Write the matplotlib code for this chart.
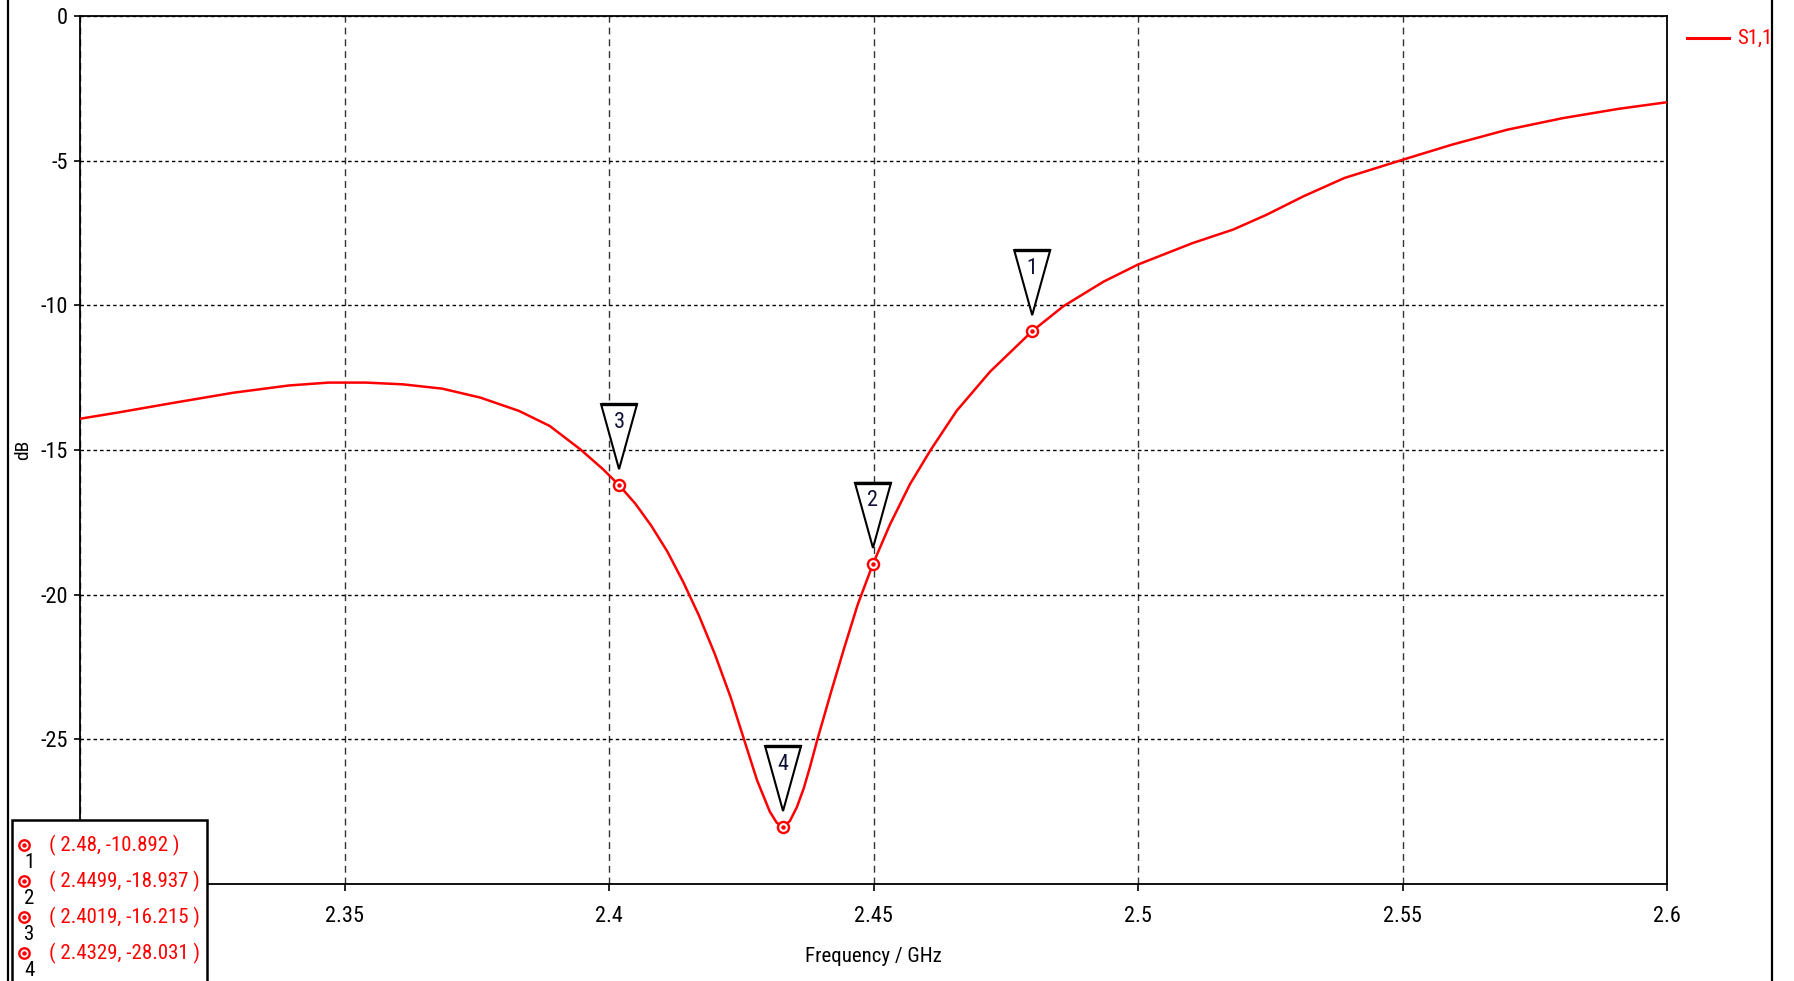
import matplotlib
matplotlib.use('Agg')
import matplotlib.pyplot as plt
from matplotlib import font_manager as fm
from matplotlib.patches import Polygon, Rectangle
from matplotlib.lines import Line2D
from matplotlib.transforms import ScaledTranslation

# ---- pick a narrow sans font if one is installed ----
_fonts = fm.fontManager.ttflist
_names = {f.name for f in _fonts}
FAMILY = None
STRETCH = 'normal'
for cand in ['Liberation Sans Narrow', 'Roboto Condensed', 'Open Sans Condensed', 'Noto Sans Condensed']:
    if cand in _names:
        FAMILY = cand
        break
if FAMILY is None:
    for f in _fonts:
        if f.name == 'DejaVu Sans' and f.stretch == 'condensed' and f.style == 'normal' and f.weight in (400, 'normal', 'regular'):
            FAMILY = 'DejaVu Sans'
            STRETCH = 'condensed'
            break
NARROW = FAMILY is not None
if FAMILY is None:
    FAMILY = 'Liberation Sans'
plt.rcParams['font.family'] = [FAMILY, 'DejaVu Sans']
plt.rcParams['font.stretch'] = STRETCH
FS = 16 if NARROW else 14
FS_T = 15 if NARROW else 13

# ---- data ----
freq = [2.300, 2.307, 2.318, 2.329, 2.3395, 2.347, 2.354, 2.361, 2.3685, 2.3757,
        2.383, 2.3888, 2.3946, 2.3989, 2.4019, 2.405, 2.408, 2.411, 2.414, 2.417,
        2.420, 2.423, 2.4255, 2.428, 2.4304, 2.4317, 2.4329, 2.4342, 2.4355, 2.4368,
        2.438, 2.4394, 2.442, 2.4445, 2.447, 2.4499, 2.4531, 2.4569, 2.4608, 2.4657,
        2.472, 2.48, 2.4859, 2.4935, 2.5, 2.5103, 2.518, 2.5243, 2.5313, 2.539,
        2.55, 2.5593, 2.5698, 2.5803, 2.5908, 2.6]
s11_db = [-13.92, -13.71, -13.36, -13.02, -12.77, -12.67, -12.67, -12.73, -12.88, -13.19,
          -13.65, -14.17, -14.98, -15.67, -16.215, -16.86, -17.62, -18.50, -19.55, -20.72,
          -22.05, -23.55, -24.99, -26.42, -27.50, -27.88, -28.031, -27.82, -27.35, -26.70,
          -25.95, -25.00, -23.35, -21.82, -20.35, -18.937, -17.58, -16.18, -15.00, -13.65,
          -12.30, -10.892, -10.03, -9.18, -8.59, -7.85, -7.38, -6.87, -6.23, -5.60,
          -4.97, -4.45, -3.93, -3.53, -3.21, -2.98]

marker_ids = ['1', '2', '3', '4']
marker_freq = [2.48, 2.4499, 2.4019, 2.4329]
marker_db = [-10.892, -18.937, -16.215, -28.031]

# end ticks at 2.3 / -30 carry no label in the reference (hidden under the marker table)
xticks = [2.3, 2.35, 2.4, 2.45, 2.5, 2.55, 2.6]
xtick_labels = ['', '2.35', '2.4', '2.45', '2.5', '2.55', '2.6']
yticks = [-30, -25, -20, -15, -10, -5, 0]
ytick_labels = ['', '-25', '-20', '-15', '-10', '-5', '0']
series_name = 'S1,1'

# ---- figure ----
W, H = 1794, 981
fig = plt.figure(figsize=(W / 100, H / 100), dpi=100)
fig.patch.set_facecolor('white')
ax = fig.add_axes([80 / W, 1 - 884 / H, (1667 - 80) / W, (884 - 16) / H])

ax.plot(freq, s11_db, color='#ff0000', lw=1.8, zorder=3, solid_joinstyle='round')
ax.set_xlim(2.3, 2.6)
ax.set_ylim(-30, 0)
ax.set_xticks(xticks)
ax.set_xticklabels(xtick_labels)
ax.set_yticks(yticks)
ax.set_yticklabels(ytick_labels)
ax.tick_params(axis='x', direction='out', length=5, width=1.2, pad=11, labelsize=FS, colors='black')
ax.tick_params(axis='y', direction='out', length=4, width=1.2, pad=5, labelsize=FS, colors='black')
for sp in ax.spines.values():
    sp.set_linewidth(1.3)
    sp.set_color('black')

ax.xaxis.grid(True, color='#333333', lw=1.0, linestyle=(0, (5, 3.5)))
ax.yaxis.grid(True, color='black', lw=1.0, linestyle=(0, (2.5, 2.2)))
ax.set_axisbelow(True)

ax.set_xlabel('Frequency / GHz', fontsize=FS_T, labelpad=14)
ax.set_ylabel('dB', fontsize=FS_T - 1, labelpad=6)

# marker points
ax.plot(marker_freq, marker_db, 'o', ms=8, mfc='white', mec='#ff0000', mew=1.7, zorder=5, clip_on=False)
ax.plot(marker_freq, marker_db, 'o', ms=2.2, color='#ff0000', zorder=6, clip_on=False)

# marker flags (inverted triangles drawn in pixel offsets from the point)
for mid, mf, md in zip(marker_ids, marker_freq, marker_db):
    trans = fig.dpi_scale_trans + ScaledTranslation(mf, md, ax.transData)
    tri = Polygon([(-0.18, 0.81), (0.18, 0.81), (0.0, 0.16)], closed=True,
                  fc='white', ec='black', lw=1.5, transform=trans, zorder=7, clip_on=False)
    ax.add_patch(tri)
    ax.plot([-0.18, 0.18], [0.81, 0.81], color='black', lw=2.4, transform=trans, zorder=7,
            clip_on=False, solid_capstyle='butt')
    ax.text(0.0, 0.63, mid, transform=trans, ha='center', va='center', fontsize=FS,
            color='#10103a', zorder=8, clip_on=False)

# legend
fig.add_artist(Line2D([1687 / W, 1729 / W], [1 - 38 / H, 1 - 38 / H], color='#ff0000', lw=2.2))
fig.text(1737 / W, 1 - 38 / H, series_name, color='#ff0000', fontsize=FS_T, va='center', ha='left')

# outer frame lines
fig.add_artist(Line2D([8 / W, 8 / W], [0, 1], color='black', lw=1.6, zorder=20))
fig.add_artist(Line2D([1772 / W, 1772 / W], [0, 1], color='black', lw=1.6, zorder=20))

# marker table
box = Rectangle((12 / W, -0.05), (207 - 12) / W, 0.05 + (1 - 820 / H), transform=fig.transFigure,
                fc='white', ec='black', lw=1.8, zorder=10)
fig.add_artist(box)
row_y = [845, 881, 917, 953]
for ry, mid, mf, md in zip(row_y, marker_ids, marker_freq, marker_db):
    yy = 1 - ry / H
    fig.add_artist(Line2D([24 / W], [yy], marker='o', ms=7.5, mfc='white', mec='#ff0000', mew=1.7, zorder=11))
    fig.add_artist(Line2D([24 / W], [yy], marker='o', ms=2.2, color='#ff0000', zorder=12))
    fig.text(29 / W, 1 - (ry + 17) / H, mid, color='black', fontsize=FS_T, ha='center', va='center', zorder=12)
    fig.text(49 / W, yy, f'( {mf}, {md} )', color='#ff0000', fontsize=FS_T, ha='left', va='center', zorder=12)

fig.savefig('out.png', dpi=100, facecolor='white')
